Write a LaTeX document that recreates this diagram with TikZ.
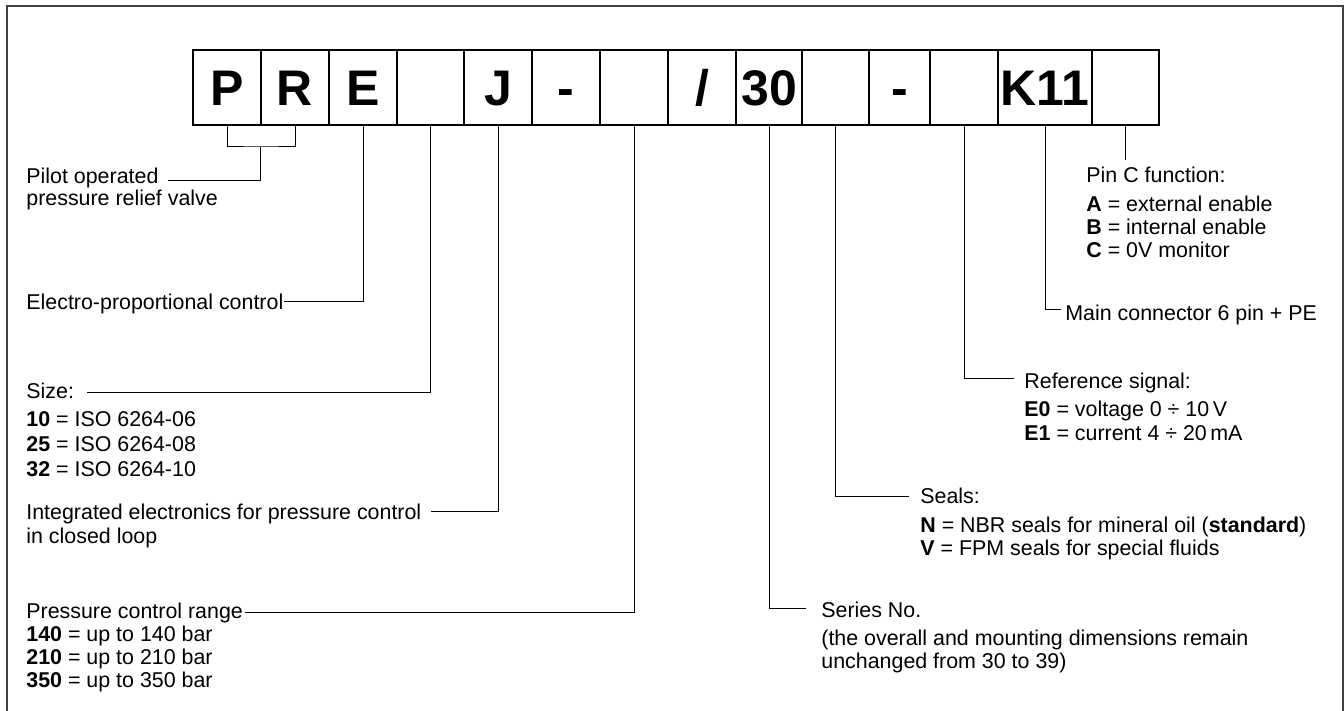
\documentclass[tikz,border=0pt]{standalone}
\usepackage{fontspec}
\setmainfont{Liberation Sans}
\usetikzlibrary{positioning}

\begin{document}
\begin{tikzpicture}[
    x=0.5pt, y=-0.5pt,
    codebox/.style={draw, line width=0.6pt, outer sep=0pt, inner sep=0pt, minimum width=34pt, minimum height=37.5pt, text height=17.9pt, text depth=0pt, font=\fontsize{25}{25}\selectfont\bfseries},
    lead/.style={line width=0.5pt, draw=black},
    desc/.style={anchor=base west, inner sep=0pt, font=\fontsize{10.7}{12}\selectfont},
]
\useasboundingbox (0,0) rectangle (1344,711);

% outer frame (open at the bottom)
\draw[line width=1pt, draw=black!75] (7,720) -- (7,6) -- (1343,6) -- (1343,720);

% Code boxes
\node[codebox] (b1) at (227,87.5) {P};
\node[codebox, right=0pt of b1] (b2) {R};
\node[codebox, right=0pt of b2] (b3) {E};
\node[codebox, right=0pt of b3, minimum width=33.5pt] (b4) {};
\node[codebox, right=0pt of b4] (b5) {J};
\node[codebox, right=0pt of b5] (b6) {-};
\node[codebox, right=0pt of b6] (b7) {};
\node[codebox, right=0pt of b7] (b8) {/};
\node[codebox, right=0pt of b8, minimum width=33pt] (b9) {30};
\node[codebox, right=0pt of b9, minimum width=33.5pt] (b10) {};
\node[codebox, right=0pt of b10, minimum width=30.5pt] (b11) {-};
\node[codebox, right=0pt of b11] (b12) {};
\node[codebox, right=0pt of b12, minimum width=47pt] (b13) {K11};
\node[codebox, right=0pt of b13, minimum width=33.5pt] (b14) {};

% Left descriptions
\node[desc] (pilot) at (26,184) {Pilot operated};
\node[desc] (pilot2) at (26,206) {pressure relief valve};
\node[desc] (electro) at (26,309) {Electro-proportional control};
\node[desc] (size) at (26,398) {Size:};
\node[desc] (size10) at (26,426) {\textbf{10} = ISO 6264-06};
\node[desc] (size25) at (26,451) {\textbf{25} = ISO 6264-08};
\node[desc] (size32) at (26,476) {\textbf{32} = ISO 6264-10};
\node[desc] (integr) at (26,519) {Integrated electronics for pressure control};
\node[desc] (integr2) at (26,543) {in closed loop};
\node[desc] (range) at (26,618) {Pressure control range};
\node[desc] (range140) at (26,641) {\textbf{140} = up to 140 bar};
\node[desc] (range210) at (26,664) {\textbf{210} = up to 210 bar};
\node[desc] (range350) at (26,687) {\textbf{350} = up to 350 bar};

% Right descriptions
\node[desc] (pinc) at (1086,183) {Pin C function:};
\node[desc] (pina) at (1086,212) {\textbf{A} = external enable};
\node[desc] (pinb) at (1086,235) {\textbf{B} = internal enable};
\node[desc] (pincc) at (1086,258) {\textbf{C} = 0V monitor};
\node[desc] (mainc) at (1065,321) {Main connector 6 pin + PE};
\node[desc] (refsig) at (1024,388) {Reference signal:};
\node[desc] (refe0) at (1024,416) {\textbf{E0} = voltage 0 ÷ 10\,V};
\node[desc] (refe1) at (1024,440) {\textbf{E1} = current 4 ÷ 20\,mA};
\node[desc] (seals) at (920,503) {Seals:};
\node[desc] (sealn) at (920,532) {\textbf{N} = NBR seals for mineral oil (\textbf{standard})};
\node[desc] (sealv) at (920,555) {\textbf{V} = FPM seals for special fluids};
\node[desc] (series) at (821,617) {Series No.};
\node[desc] (series2) at (821,645) {(the overall and mounting dimensions remain};
\node[desc] (series3) at (821,668) {unchanged from 30 to 39)};

% Connector ends
\coordinate (prjoin) at (260.5,147);
\coordinate (pilotend) at (168,181);
\coordinate (electroend) at (284,302);
\coordinate (sizeend) at (87,392);
\coordinate (integrend) at (431,511);
\coordinate (rangeend) at (245,612);
\path (b14.south) ++(0,35) coordinate (pinend);
\coordinate (mainend) at (1061,310);
\coordinate (refend) at (1014,378);
\coordinate (sealend) at (909,496);
\coordinate (seriesend) at (806,608);

% Connectors
\draw[lead] (b1.south) |- (prjoin) -| (b2.south);
\draw[lead] (prjoin) |- (pilotend);
\draw[lead] (b3.south) |- (electroend);
\draw[lead] (b4.south) |- (sizeend);
\draw[lead] (b5.south) |- (integrend);
\draw[lead] (b7.south) |- (rangeend);
\draw[lead] (b9.south) |- (seriesend);
\draw[lead] (b10.south) |- (sealend);
\draw[lead] (b12.south) |- (refend);
\draw[lead] (b13.south) |- (mainend);
\draw[lead] (b14.south) -- (pinend);

\end{tikzpicture}
\end{document}
